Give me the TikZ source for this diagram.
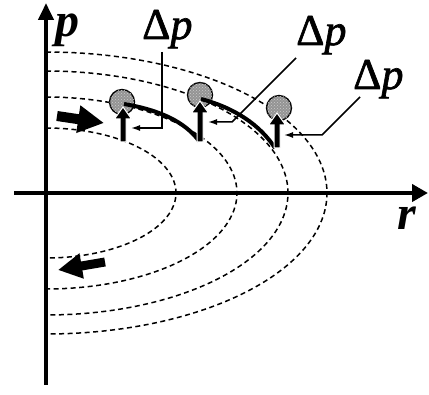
\documentclass[tikz,border=0pt]{standalone}
\usepackage{fontspec}
\setmainfont{Liberation Serif}
\newfontfamily\heavyserif[FakeBold=1.5]{Liberation Serif}
\usetikzlibrary{arrows.meta,patterns}
\tikzset{
  orbit/.style={dash pattern=on 5pt off 3.5pt, line width=1.5pt},
  axisline/.style={line width=4pt},
  ball/.style={circle, draw, line width=1.3pt, fill=black!42, minimum size=25pt, inner sep=0pt,
    postaction={pattern=crosshatch dots, pattern color=white!80!black}},
  track/.style={line width=4pt},
  leader/.style={line width=1.5pt, -{Latex[length=9pt,width=6pt]}},
  dplabel/.style={anchor=base west, inner sep=0pt, font=\heavyserif\fontsize{44}{44}\selectfont},
  axlabel/.style={anchor=base west, inner sep=0pt, font=\fontsize{48}{48}\selectfont\bfseries\itshape},
  kick/.style={fill=black, draw=white, line width=1pt}
}
\begin{document}
\begin{tikzpicture}[x=1pt,y=-1pt]
\useasboundingbox (0,0) rectangle (429,395);
% orbits
\foreach \a/\b in {130/65, 191/96, 242/122, 281/141}{
  \draw[orbit] plot[domain=90:-90, samples=80, smooth] ({46+\a*cos(\x)},{193-\b*sin(\x)});
}
% axes
\coordinate (vb) at (46,385);
\coordinate (vt) at (46,3);
\coordinate (hl) at (14,193);
\coordinate (hr) at (428,193);
\draw[axisline, -{Triangle[length=17pt,width=15pt]}] (vb) -- (vt);
\draw[axisline, -{Triangle[length=16pt,width=17pt]}] (hl) -- (hr);
% balls
\node[ball] (c1) at (122,102) {};
\node[ball] (c2) at (200,95) {};
\node[ball] (c3) at (279,108) {};
% tracks
\coordinate (t1e) at (199,141);
\coordinate (t2e) at (275,148);
\draw[track] (124,104) .. controls (160,110) and (185,122) .. (t1e);
\draw[track] (201,99) .. controls (235,108) and (260,125) .. (t2e);
% kicks (up arrows)
\foreach \x/\yb/\yt in {123/142/107, 200/142/101, 277/148/113}{
  \pgfmathsetmacro{\hb}{\yt+12}
  \filldraw[kick] (\x-3,\yb) -- (\x-3,\hb) -- (\x-8.5,\hb) -- (\x,\yt) -- (\x+8.5,\hb) -- (\x+3,\hb) -- (\x+3,\yb) -- cycle;
}
% labels
\node[dplabel] (dp1) at (142,39) {Δ\textit{p}};
\node[dplabel] (dp2) at (296,45) {Δ\textit{p}};
\node[dplabel] (dp3) at (353,89) {Δ\textit{p}};
\node[axlabel] (plab) at (55,37) {p};
\node[axlabel] (rlab) at (397,230) {r};
% leaders
\coordinate (l1s) at (162,52);
\coordinate (l1b) at (162,128);
\coordinate (l1e) at (131,128);
\coordinate (l2s) at (296,58);
\coordinate (l2b) at (232,122);
\coordinate (l2e) at (208,122);
\coordinate (l3s) at (360,97);
\coordinate (l3b) at (322,135);
\coordinate (l3e) at (284,135);
\draw[leader] (l1s) -- (l1b) -- (l1e);
\draw[leader] (l2s) -- (l2b) -- (l2e);
\draw[leader] (l3s) -- (l3b) -- (l3e);
% direction arrows
\coordinate (ra1) at (57,116);
\coordinate (ra2) at (104,123);
\coordinate (la1) at (105,262);
\coordinate (la2) at (58,270);
\draw[line width=10pt, -{Triangle[length=26pt,width=26pt]}] (ra1) -- (ra2);
\draw[line width=9pt, -{Triangle[length=24pt,width=24pt]}] (la1) -- (la2);
\end{tikzpicture}
\end{document}
